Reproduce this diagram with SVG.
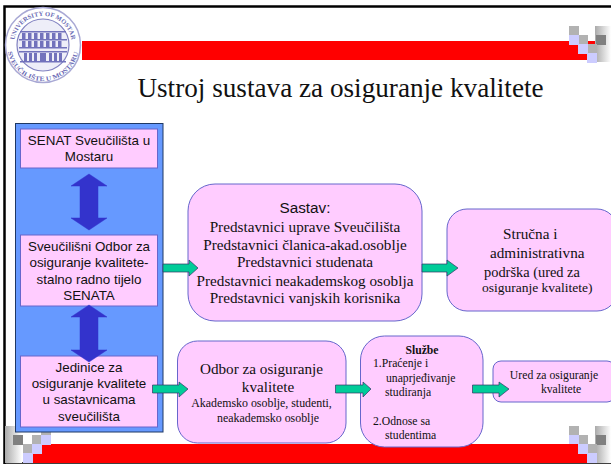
<svg xmlns="http://www.w3.org/2000/svg" xmlns:xlink="http://www.w3.org/1999/xlink" width="611" height="464" viewBox="0 0 611 464">
<style>
.sq-g{fill:#b2b2b2}.sq-l{fill:#ccccff}.sq-d{fill:#808080}.red{fill:#ff0000}
.panel{fill:#6699ff;stroke:#1f3864;stroke-width:1}
.box{fill:#ffccff;stroke:#6666cc;stroke-width:1}
.dbl{fill:#3333cc;stroke:#3333cc;stroke-width:.5}
.arr{fill:#00cc99;stroke:#333366;stroke-width:.7}
text{fill:#111}
.sans{font-family:"Liberation Sans",Arial,sans-serif;font-size:13.4px;text-anchor:middle}
.serif{font-family:"Liberation Serif","Times New Roman",serif;text-anchor:middle}
.logo{font-family:"Liberation Serif",serif;font-size:6.4px;font-weight:bold;fill:#6a6ab4}
.w{fill:#7272bc}
</style>
<defs>
<linearGradient id="fade" x1="0" x2="1" y1="0" y2="0"><stop offset="0" stop-color="#aaaaaa"/><stop offset="1" stop-color="#ffffff"/></linearGradient>
<path id="arcTop" d="M14.400 40 A29 29 0 0 1 71.600 40"/>
<path id="arcBot" d="M7.700 52 A36 36 0 0 0 78.300 52"/>
</defs>
<rect width="611" height="464" fill="#fff"/>
<g id="frame">
<path d="M4.500 464V6.500H611" fill="none" stroke="#000" stroke-width="2.500"/>
<path d="M4 463H611" stroke="#000" stroke-width="1.500"/>
</g>
<g id="decor">
<rect class="red" x="82" y="41" width="513" height="19"/>
<rect x="595" y="26" width="16" height="36" fill="url(#fade)"/>
<rect class="sq-d" x="596" y="35" width="10" height="10"/>
<rect class="sq-g" x="569" y="26" width="10" height="9"/><rect class="sq-l" x="569" y="35" width="10" height="10"/>
<rect class="sq-g" x="579" y="35" width="9" height="9"/><rect class="sq-l" x="578" y="44" width="10" height="10"/>
<rect class="sq-g" x="588" y="44" width="9" height="9"/><rect class="sq-l" x="587" y="53" width="10" height="10"/>

<rect class="red" x="33" y="444" width="555" height="19"/>
<rect x="5" y="426" width="17" height="37" fill="url(#fade)"/>
<rect class="sq-d" x="13" y="435" width="10" height="10"/>
<rect class="sq-g" x="41" y="432" width="10" height="3"/><rect class="sq-l" x="41" y="435" width="10" height="10"/>
<rect class="sq-g" x="32" y="435" width="9" height="9"/><rect class="sq-l" x="32" y="444" width="10" height="10"/>
<rect class="sq-g" x="23" y="444" width="9" height="9"/><rect class="sq-l" x="23" y="453" width="10" height="10"/>

<rect x="595" y="426" width="16" height="37" fill="url(#fade)"/>
<rect class="sq-d" x="596" y="435" width="10" height="10"/>
<rect class="sq-g" x="569" y="426" width="10" height="9"/><rect class="sq-l" x="569" y="435" width="10" height="9"/>
<rect class="sq-g" x="579" y="435" width="9" height="9"/><rect class="sq-l" x="578" y="444" width="10" height="10"/>
<rect class="sq-g" x="588" y="444" width="9" height="9"/><rect class="sq-l" x="587" y="453" width="10" height="10"/>
</g>
<g id="logo">
<circle cx="43" cy="45" r="37.500" fill="#fff" stroke="#a8a8d4" stroke-width="1.500"/>
<circle cx="43" cy="45" r="26" fill="#eeeef8" stroke="#8080c0" stroke-width="1.200"/>
<g class="w">
<rect x="20" y="31" width="46" height="1.500"/>
<rect x="19" y="39" width="48" height="1.500"/>
<rect x="19" y="47" width="48" height="1.500"/>
<rect x="19" y="51" width="48" height="1.500"/>
<rect x="20" y="61" width="46" height="1.500"/>
<rect x="22" y="33" width="3.500" height="6"/><rect x="28" y="33" width="3.500" height="6"/><rect x="34" y="33" width="3.500" height="6"/><rect x="40" y="33" width="3.500" height="6"/><rect x="46" y="33" width="3.500" height="6"/><rect x="52" y="33" width="3.500" height="6"/><rect x="58" y="33" width="3.500" height="6"/>
<rect x="22" y="41" width="3.500" height="6"/><rect x="28" y="41" width="3.500" height="6"/><rect x="34" y="41" width="3.500" height="6"/><rect x="40" y="41" width="3.500" height="6"/><rect x="46" y="41" width="3.500" height="6"/><rect x="52" y="41" width="3.500" height="6"/><rect x="58" y="41" width="3.500" height="6"/>
<rect x="24" y="53" width="3" height="8"/><rect x="29" y="53" width="3" height="8"/><rect x="34" y="53" width="3" height="8"/><rect x="40" y="53" width="6" height="8"/><rect x="49" y="53" width="3" height="8"/><rect x="54" y="53" width="3" height="8"/><rect x="59" y="53" width="3" height="8"/>
</g>
<text class="logo"><textPath xlink:href="#arcTop" href="#arcTop" textLength="81" lengthAdjust="spacingAndGlyphs">UNIVERSITY OF MOSTAR</textPath></text>
<text class="logo"><textPath xlink:href="#arcBot" href="#arcBot" textLength="98" lengthAdjust="spacingAndGlyphs">SVEUČILIŠTE U MOSTARU</textPath></text>
</g>
<text id="title" class="serif" x="340.500" y="97" font-size="27.200">Ustroj sustava za osiguranje kvalitete</text>
<rect id="panel" class="panel" x="15.500" y="123.500" width="147.500" height="308.500"/>
<g id="senat">
<rect class="box" x="20.500" y="129" width="137" height="39"/>
<text class="sans" x="89" y="145">SENAT Sveučilišta u</text>
<text class="sans" x="89" y="161">Mostaru</text>
</g>
<g id="odbor-sveucilisni">
<rect class="box" x="20.500" y="235" width="137" height="71"/>
<text class="sans" x="89" y="251">Sveučilišni Odbor za</text>
<text class="sans" x="89" y="267">osiguranje kvalitete-</text>
<text class="sans" x="89" y="284">stalno radno tijelo</text>
<text class="sans" x="89" y="300">SENATA</text>
</g>
<g id="jedinice">
<rect class="box" x="20.500" y="356" width="137" height="71"/>
<text class="sans" x="89" y="372">Jedinice za</text>
<text class="sans" x="89" y="388">osiguranje kvalitete</text>
<text class="sans" x="89" y="404">u sastavnicama</text>
<text class="sans" x="89" y="421">sveučilišta</text>
</g>
<g id="sastav">
<rect class="box" x="188" y="184" width="234" height="137" rx="27"/>
<text class="sans" x="305" y="213" style="font-size:15.300px">Sastav:</text>
<g class="serif" font-size="15.200">
<text x="305" y="232">Predstavnici uprave Sveučilišta</text>
<text x="305" y="250">Predstavnici članica-akad.osoblje</text>
<text x="305" y="267">Predstavnici studenata</text>
<text x="305" y="286">Predstavnici neakademskog osoblja</text>
<text x="305" y="303">Predstavnici vanjskih korisnika</text>
</g>
</g>
<g id="strucna">
<rect class="box" x="447" y="209" width="170" height="102" rx="20"/>
<g class="serif" style="text-anchor:start">
<text x="503" y="239" font-size="15.200">Stručna i</text>
<text x="490" y="258" font-size="15.200">administrativna</text>
<text x="484" y="277" font-size="14.400">podrška (ured za</text>
<text x="482" y="292" font-size="13.500">osiguranje kvalitete)</text>
</g>
</g>
<g id="odbor">
<rect class="box" x="177.500" y="341" width="168.500" height="102" rx="20"/>
<text class="serif" x="261.500" y="374" font-size="15.200">Odbor za osiguranje</text>
<text class="serif" x="268" y="392" font-size="15.200">kvalitete</text>
<text class="serif" x="261.500" y="407" font-size="11.900">Akademsko osoblje, studenti,</text>
<text class="serif" x="268" y="422" font-size="11.900">neakademsko osoblje</text>
</g>
<g id="sluzbe">
<rect class="box" x="360.500" y="336" width="122.500" height="111" rx="24"/>
<text class="serif" x="422" y="354" font-size="11.700" font-weight="bold">Službe</text>
<g class="serif" style="text-anchor:start" font-size="11.700">
<text x="373" y="367">1.Praćenje i</text>
<text x="386" y="382">unaprjeđivanje</text>
<text x="385" y="396">studiranja</text>
<text x="373" y="425">2.Odnose sa</text>
<text x="385" y="439">studentima</text>
</g>
</g>
<g id="ured">
<rect class="box" x="493" y="361" width="122" height="41" rx="8"/>
<text class="serif" x="554" y="379" font-size="11.700">Ured za osiguranje</text>
<text class="serif" x="561" y="393" font-size="11.700">kvalitete</text>
</g>
<g id="connectors">
<path class="dbl" d="M89 174L107 186H98V218H107L89 230L71 218H80V186H71Z"/>
<path class="dbl" d="M89 305L107 317H98V350H107L89 362L71 350H80V317H71Z"/>
<path class="arr" d="M163 264H189V260L198 268L189 276V272H163Z"/>
<path class="arr" d="M422 264H447V260L458 268L447 276V272H422Z"/>
<path class="arr" d="M152.500 385H179V382L188 389L179 397V393H152.500Z"/>
<path class="arr" d="M335.500 385H363V382L371 389L363 397V393H335.500Z"/>
<path class="arr" d="M472.500 385H499V382L509 389L499 397V393H472.500Z"/>
</g>
</svg>
